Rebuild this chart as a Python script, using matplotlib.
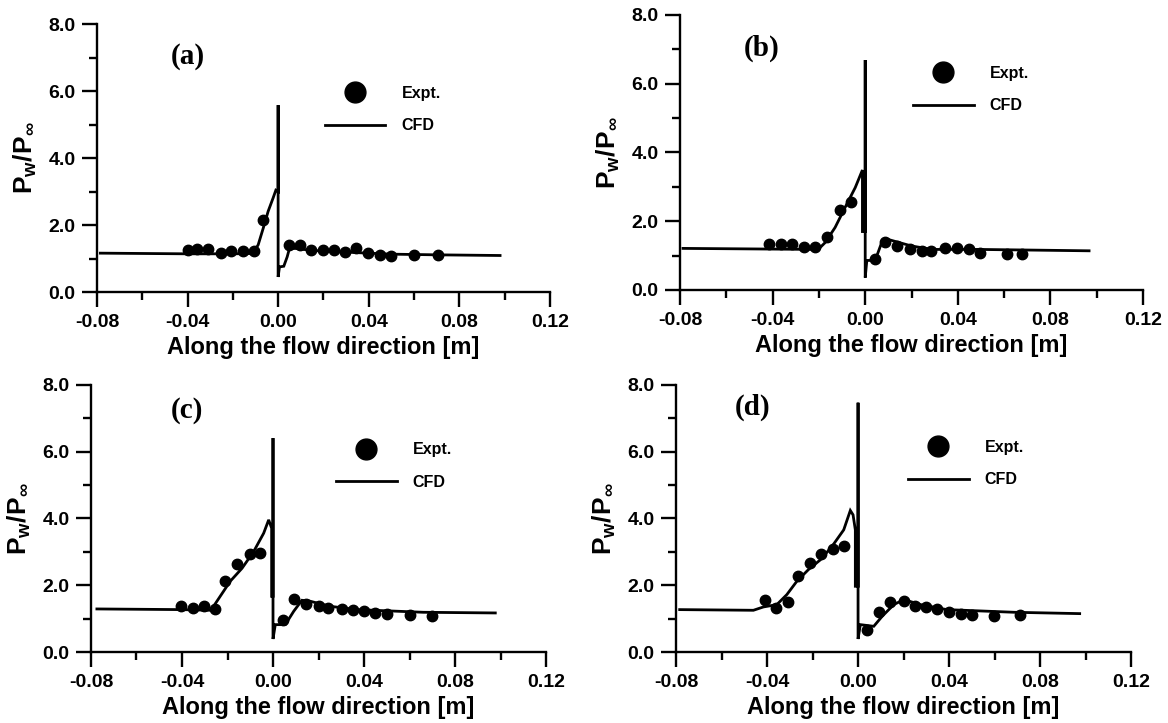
import matplotlib
matplotlib.use('Agg')
import matplotlib.pyplot as plt
from matplotlib.ticker import MultipleLocator, FormatStrFormatter
from matplotlib.lines import Line2D

plt.rcParams['font.family'] = ['Liberation Sans', 'DejaVu Sans']
plt.rcParams['font.weight'] = 'bold'
plt.rcParams['mathtext.fontset'] = 'custom'
plt.rcParams['mathtext.rm'] = 'Liberation Sans:bold'
plt.rcParams['mathtext.it'] = 'Liberation Sans:bold'
plt.rcParams['mathtext.bf'] = 'Liberation Sans:bold'

# ---- panel (a) ----
expt_x_a = [-0.040, -0.0357, -0.0308, -0.0254, -0.0207, -0.0157, -0.0107, -0.0066, 0.0046, 0.0095,
            0.0147, 0.0198, 0.0247, 0.0297, 0.0345, 0.0396, 0.0448, 0.0499, 0.0602, 0.0705]
expt_y_a = [1.24, 1.29, 1.29, 1.16, 1.21, 1.21, 1.23, 2.16, 1.39, 1.39,
            1.26, 1.26, 1.24, 1.19, 1.31, 1.16, 1.11, 1.09, 1.11, 1.11]
cfd_x_a = [-0.0785, -0.04, -0.02, -0.012, -0.0105, -0.0088, -0.0066, -0.0044, -0.0022, -0.001, 0.0, 0.0, 0.0,
           0.0006, 0.0025, 0.004, 0.005, 0.008, 0.015, 0.03, 0.05, 0.07, 0.098]
cfd_y_a = [1.16, 1.14, 1.14, 1.15, 1.22, 1.41, 1.9, 2.41, 2.81, 3.04, 3.0, 5.58, 0.45,
           0.75, 0.77, 1.05, 1.3, 1.3, 1.24, 1.19, 1.13, 1.11, 1.09]

# ---- panel (b) ----
expt_x_b = [-0.0416, -0.0364, -0.0315, -0.0264, -0.0217, -0.0166, -0.0108, -0.0062, 0.0043, 0.0087,
            0.0137, 0.0195, 0.0245, 0.0286, 0.0344, 0.0397, 0.0448, 0.0498, 0.0611, 0.0676]
expt_y_b = [1.33, 1.33, 1.33, 1.25, 1.25, 1.54, 2.33, 2.56, 0.89, 1.41,
            1.28, 1.18, 1.14, 1.14, 1.23, 1.23, 1.18, 1.09, 1.06, 1.06]
cfd_x_b = [-0.0787, -0.04, -0.022, -0.02, -0.0173, -0.013, -0.0087, -0.0043, -0.0012, -0.0012, 0.0, 0.0, 0.0,
           0.0007, 0.0043, 0.0075, 0.0094, 0.02, 0.029, 0.049, 0.0967]
cfd_y_b = [1.21, 1.19, 1.18, 1.2, 1.38, 1.82, 2.4, 2.98, 3.49, 1.7, 1.7, 6.69, 0.36,
           0.86, 0.86, 1.45, 1.48, 1.28, 1.18, 1.18, 1.14]

# ---- panel (c) ----
expt_x_c = [-0.0404, -0.0353, -0.0305, -0.0253, -0.0210, -0.0158, -0.0100, -0.0056, 0.0044, 0.0094,
            0.0147, 0.0201, 0.0240, 0.0303, 0.0352, 0.0401, 0.0450, 0.0501, 0.0601, 0.0699]
expt_y_c = [1.39, 1.32, 1.39, 1.29, 2.12, 2.64, 2.93, 2.98, 0.95, 1.60,
            1.44, 1.39, 1.32, 1.30, 1.27, 1.22, 1.17, 1.15, 1.10, 1.07]
cfd_x_c = [-0.0774, -0.04, -0.0273, -0.0232, -0.0188, -0.0136, -0.0085, -0.0041, -0.0019, -0.0006, -0.0006,
           0.0, 0.0, 0.0, 0.001, 0.0054, 0.0091, 0.0127, 0.0164, 0.025, 0.037, 0.066, 0.0977]
cfd_y_c = [1.29, 1.27, 1.25, 1.67, 2.12, 2.51, 3.01, 3.56, 3.96, 3.71, 1.67,
           1.67, 6.41, 0.39, 0.82, 0.82, 1.22, 1.55, 1.52, 1.37, 1.27, 1.19, 1.17]

# ---- panel (d) ----
expt_x_d = [-0.0409, -0.0360, -0.0310, -0.0262, -0.0210, -0.0162, -0.0110, -0.0063, 0.0040, 0.0091,
            0.0140, 0.0201, 0.0250, 0.0300, 0.0349, 0.0400, 0.0451, 0.0500, 0.0599, 0.0712]
expt_y_d = [1.55, 1.32, 1.50, 2.29, 2.66, 2.93, 3.08, 3.18, 0.67, 1.19,
            1.49, 1.52, 1.39, 1.35, 1.29, 1.20, 1.15, 1.12, 1.07, 1.10]
cfd_x_d = [-0.0784, -0.046, -0.0416, -0.0357, -0.0313, -0.0269, -0.0218, -0.0166, -0.0115, -0.0063,
           -0.0034, -0.0022, -0.0012, -0.0012, 0.0, 0.0, 0.0, 0.001, 0.0069, 0.0106, 0.0157, 0.0201,
           0.0275, 0.039, 0.0687, 0.0974]
cfd_y_d = [1.27, 1.25, 1.35, 1.42, 1.72, 2.12, 2.47, 2.76, 3.16, 3.66,
           4.24, 4.11, 3.66, 1.97, 1.97, 7.47, 0.39, 0.82, 0.77, 1.07, 1.42, 1.57,
           1.42, 1.27, 1.19, 1.15]

panel_labels = ['(a)', '(b)', '(c)', '(d)']


def draw_panel(ax, ex, ey, cx, cy, tag, tag_pos, leg_pos):
    ax.plot(cx, cy, color='black', lw=2.0, solid_joinstyle='miter')
    ax.plot(ex, ey, 'o', color='black', ms=7.5, lw=0)

    ax.set_xlim(-0.08, 0.12)
    ax.set_ylim(0, 8)
    ax.xaxis.set_major_locator(MultipleLocator(0.04))
    ax.xaxis.set_minor_locator(MultipleLocator(0.02))
    ax.yaxis.set_major_locator(MultipleLocator(2))
    ax.yaxis.set_minor_locator(MultipleLocator(1))
    ax.xaxis.set_major_formatter(FormatStrFormatter('%.2f'))
    ax.yaxis.set_major_formatter(FormatStrFormatter('%.1f'))
    ax.spines['top'].set_visible(False)
    ax.spines['right'].set_visible(False)
    for s in ['left', 'bottom']:
        ax.spines[s].set_linewidth(1.7)
    ax.tick_params(which='major', direction='out', length=10.5, width=1.7, pad=5, labelsize=14)
    ax.tick_params(which='minor', direction='out', length=6, width=1.7)
    for lab in ax.get_xticklabels() + ax.get_yticklabels():
        lab.set_fontweight('bold')

    ax.set_xlabel('Along the flow direction [m]', fontsize=17, fontweight='bold', labelpad=4)
    ax.set_ylabel(r'P$_{\mathbf{w}}$/P$_\infty$', fontsize=19, fontweight='bold', labelpad=7)

    ax.text(tag_pos[0], tag_pos[1], tag, transform=ax.transAxes, ha='center', va='center',
            family='Liberation Serif', fontweight='bold', fontsize=21)

    handles = [Line2D([], [], marker='o', ls='none', color='black', ms=7.5),
               Line2D([], [], color='black', lw=2.0)]
    ax.legend(handles, ['Expt.', 'CFD'], loc='upper left', bbox_to_anchor=leg_pos,
              frameon=False, markerscale=2, handlelength=3.8, handletextpad=1.0,
              labelspacing=1.1, borderpad=0, borderaxespad=0,
              prop={'weight': 'bold', 'size': 11.5})


fig = plt.figure(figsize=(11.68, 7.23), dpi=100)
ax_a = fig.add_axes([0.0830, 0.5961, 0.3878, 0.3707])
ax_b = fig.add_axes([0.5822, 0.5989, 0.3964, 0.3804])
ax_c = fig.add_axes([0.0779, 0.0982, 0.3896, 0.3693])
ax_d = fig.add_axes([0.5788, 0.0982, 0.3896, 0.3693])

draw_panel(ax_a, expt_x_a, expt_y_a, cfd_x_a, cfd_y_a, panel_labels[0], (0.20, 0.877), (0.503, 0.77))
draw_panel(ax_b, expt_x_b, expt_y_b, cfd_x_b, cfd_y_b, panel_labels[1], (0.177, 0.88), (0.503, 0.815))
draw_panel(ax_c, expt_x_c, expt_y_c, cfd_x_c, cfd_y_c, panel_labels[2], (0.211, 0.906), (0.538, 0.785))
draw_panel(ax_d, expt_x_d, expt_y_d, cfd_x_d, cfd_y_d, panel_labels[3], (0.169, 0.918), (0.510, 0.795))

fig.savefig('out.png', dpi=100)
